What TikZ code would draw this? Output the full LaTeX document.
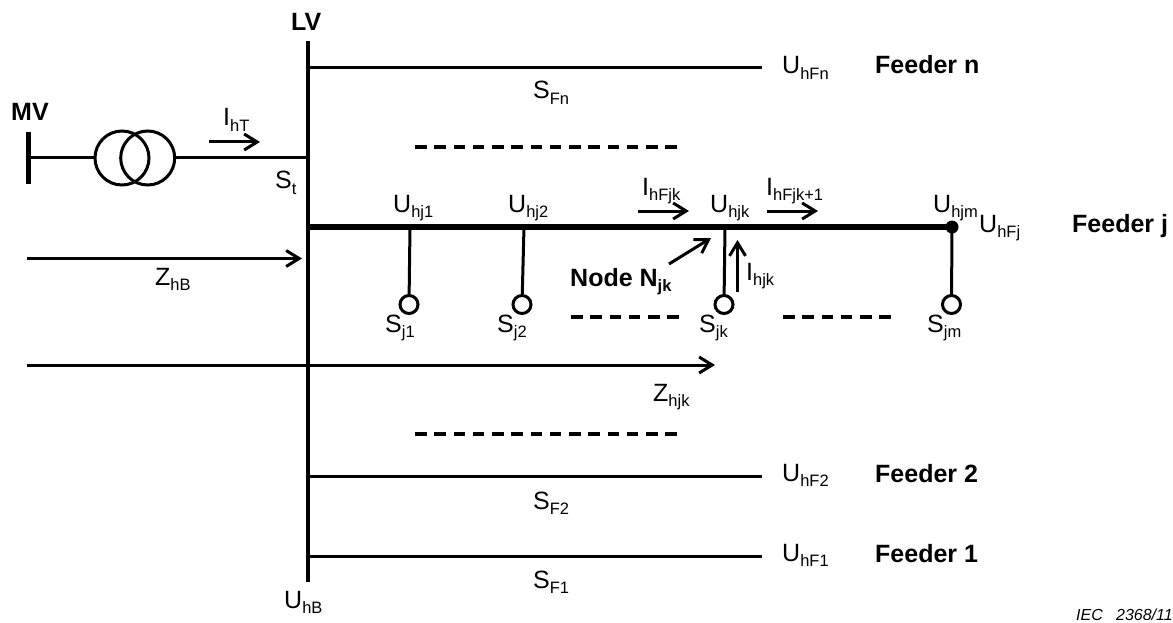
\documentclass[tikz,border=0pt]{standalone}
\usepackage{fontspec}
\setmainfont{Liberation Sans}
\usetikzlibrary{arrows.meta}
\newcommand{\lbl}[2]{#1\raisebox{-0.22em}{\fontsize{16.5}{17}\selectfont #2}}
\tikzset{
  x=1pt,y=-1pt,
  txt/.style={inner sep=0pt,font=\fontsize{25}{27}\selectfont,anchor=base west},
  bold/.style={txt,font=\fontsize{25}{27}\selectfont\bfseries},
  bus/.style={line width=4.5pt},
  main/.style={line width=5.5pt},
  wire/.style={line width=3pt},
  dsh/.style={line width=3.3pt,dash pattern=on 11.5pt off 7.75pt},
  arr/.style={line width=3pt,-{Straight Barb[length=13pt,width=16pt,line width=3pt]}},
  load/.style={circle,draw,line width=3pt,minimum size=18pt,inner sep=0pt},
  xf/.style={circle,draw,line width=3pt,minimum size=54pt,inner sep=0pt}
}
\begin{document}
\begin{tikzpicture}
\useasboundingbox (0,0) rectangle (1173,623);
% bus
\coordinate (bt) at (307.8,41);
\coordinate (bb) at (307.8,582);
\draw[bus] (bt) -- (bb);
% MV side
\coordinate (mt) at (28.5,132);
\coordinate (mb) at (28.5,184);
\coordinate (mm) at (28.5,158);
\coordinate (bx) at (307.8,158);
\draw[bus] (mt) -- (mb);
\node[xf] (t1) at (122,158) {};
\node[xf] (t2) at (147.7,158) {};
\draw[wire] (mm) -- (t1.west);
\draw[wire] (t2.east) -- (bx);
% feeders
\foreach \n/\y in {n/68,2/476,1/556}{
  \coordinate (fa\n) at (307.8,\y);
  \coordinate (fb\n) at (762,\y);
  \draw[wire] (fa\n) -- (fb\n);
}
\coordinate (fja) at (307.8,227);
\node[circle,fill=black,minimum size=13pt,inner sep=0pt] (fjb) at (952,227) {};
\draw[main] (fja) -- (fjb.center);
% dashes
\coordinate (d1a) at (415,147); \coordinate (d1b) at (677,147);
\coordinate (d2a) at (415,434); \coordinate (d2b) at (677,434);
\coordinate (d3a) at (571,317); \coordinate (d3b) at (679,317);
\coordinate (d4a) at (783,317); \coordinate (d4b) at (891,317);
\draw[dsh] (d1a) -- (d1b);
\draw[dsh] (d2a) -- (d2b);
\draw[dsh] (d3a) -- (d3b);
\draw[dsh] (d4a) -- (d4b);
% loads
\foreach \k/\xa/\xb in {1/410/409,2/524/522,k/725/724,m/952/951.5}{
  \node[load] (s\k) at (\xb,304.5) {};
  \coordinate (j\k) at (\xa,227);
  \draw[wire] (j\k) -- (s\k);
}
% arrows
\coordinate (a1) at (209,142); \coordinate (a2) at (260,142);
\draw[arr] (a1) -- (a2);
\coordinate (z1) at (27,258.5); \coordinate (z2) at (302,258.5);
\draw[arr] (z1) -- (z2);
\coordinate (z3) at (27,365); \coordinate (z4) at (715,365);
\draw[arr] (z3) -- (z4);
\coordinate (i1) at (638,211); \coordinate (i2) at (689,211);
\draw[arr] (i1) -- (i2);
\coordinate (i3) at (767,211); \coordinate (i4) at (818,211);
\draw[arr] (i3) -- (i4);
\coordinate (i5) at (737.5,292); \coordinate (i6) at (737.5,240);
\draw[arr] (i5) -- (i6);
\coordinate (n1) at (669,264); \coordinate (n2) at (711,238);
\draw[arr] (n1) -- (n2);
% labels
\node[bold] (lv) at (291,31) {LV};
\node[bold] (mv) at (11,121) {MV};
\node[txt] (iht) at (223,126) {\lbl{I}{hT}};
\node[txt] (st) at (275,189) {\lbl{S}{t}};
\node[txt] (zhb) at (155,285) {\lbl{Z}{hB}};
\node[txt] (uhb) at (284,608) {\lbl{U}{hB}};
\node[txt] (ufn) at (782,74) {\lbl{U}{hFn}};
\node[bold] (ffn) at (875,74) {Feeder n};
\node[txt] (sfn) at (533,99) {\lbl{S}{Fn}};
\node[txt] (u1) at (393,212) {\lbl{U}{hj1}};
\node[txt] (u2) at (508,212) {\lbl{U}{hj2}};
\node[txt] (ifjk) at (642,195) {\lbl{I}{hFjk}};
\node[txt] (ujk) at (710,212) {\lbl{U}{hjk}};
\node[txt] (ifk1) at (766,195) {\lbl{I}{hFjk+1}};
\node[txt] (ujm) at (933,212) {\lbl{U}{hjm}};
\node[txt] (ufj) at (979,232) {\lbl{U}{hFj}};
\node[bold] (ffj) at (1072,232) {Feeder j};
\node[bold] (nn) at (570,286) {Node N\raisebox{-0.22em}{\fontsize{16.5}{17}\selectfont jk}};
\node[txt] (ijk) at (746,280) {\lbl{I}{hjk}};
\node[txt] (sj1) at (385,332) {\lbl{S}{j1}};
\node[txt] (sj2) at (497,332) {\lbl{S}{j2}};
\node[txt] (sjk) at (699,332) {\lbl{S}{jk}};
\node[txt] (sjm) at (927,332) {\lbl{S}{jm}};
\node[txt] (zjk) at (653,401) {\lbl{Z}{hjk}};
\node[txt] (uf2) at (782,481) {\lbl{U}{hF2}};
\node[bold] (ff2) at (875,482) {Feeder 2};
\node[txt] (sf2) at (533,509) {\lbl{S}{F2}};
\node[txt] (uf1) at (782,561) {\lbl{U}{hF1}};
\node[bold] (ff1) at (875,562) {Feeder 1};
\node[txt] (sf1) at (533,588) {\lbl{S}{F1}};
\node[inner sep=0pt,anchor=base east,font=\fontsize{16}{17}\selectfont\itshape] (iec) at (1173,620) {IEC\ \ \ 2368/11};
\end{tikzpicture}
\end{document}
